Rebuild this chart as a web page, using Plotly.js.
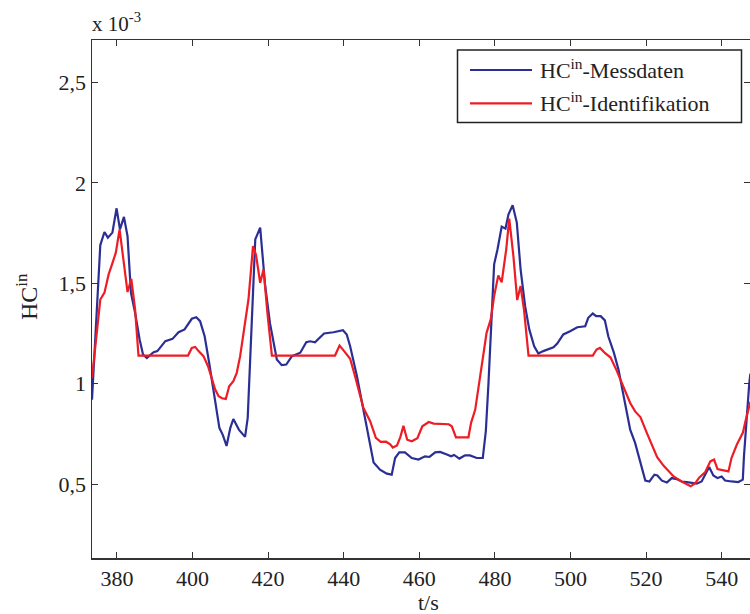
<!DOCTYPE html>
<html><head><meta charset="utf-8">
<script src="https://cdn.plot.ly/plotly-3.0.1.min.js"></script>
<style>html,body{margin:0;padding:0;background:#fff}#chart{width:750px;height:614px}</style>
</head><body><div id="chart"></div>
<script>
// values in units of 10^-3 (axis shows "x 10^-3")
var tMess = [373.4,375.6,376.7,377.6,378.8,379.9,380.8,381.85,382.8,383.7,384.8,386.0,386.9,387.9,389.7,390.7,392.8,394.7,396.3,397.9,399.8,401.0,402.0,403.2,404.4,406.0,407.1,408.0,409.0,410.0,410.8,412.3,413.9,414.6,416.6,417.9,419.2,420.5,422.3,423.6,424.8,426.3,428.5,430.1,431.1,432.4,434.8,437.3,439.8,440.8,441.7,443.5,445.2,446.8,447.9,449.6,451.4,452.7,453.6,454.7,456.2,458.0,459.8,461.5,462.7,464.2,465.5,467.3,468.4,469.2,470.6,472.1,473.4,475.2,476.8,477.6,478.3,479.8,480.7,481.8,482.8,483.6,484.7,485.8,486.8,488.0,489.1,490.4,491.5,492.8,494.1,495.5,496.5,498.1,499.9,501.8,503.9,504.7,505.9,506.8,508.0,509.1,510.0,511.5,512.7,513.6,515.8,517.1,518.5,519.8,520.9,522.2,523.0,524.2,525.5,526.8,528.1,529.4,530.8,532.1,533.4,534.7,535.9,536.7,537.8,538.9,540.0,540.9,542.6,544.4,545.6,545.9,547.3,547.6];
var hcMess = [0.92,1.69,1.755,1.727,1.752,1.873,1.768,1.83,1.735,1.453,1.353,1.22,1.145,1.128,1.157,1.162,1.212,1.223,1.256,1.27,1.323,1.331,1.311,1.236,1.104,0.904,0.78,0.745,0.69,0.78,0.824,0.77,0.735,0.83,1.718,1.777,1.49,1.30,1.12,1.092,1.095,1.137,1.154,1.206,1.211,1.206,1.25,1.256,1.266,1.245,1.186,1.037,0.871,0.696,0.608,0.572,0.552,0.547,0.63,0.658,0.658,0.63,0.622,0.638,0.635,0.658,0.66,0.647,0.638,0.645,0.627,0.643,0.643,0.63,0.63,0.763,1.0,1.594,1.669,1.782,1.772,1.843,1.888,1.802,1.569,1.386,1.27,1.186,1.15,1.162,1.173,1.181,1.2,1.245,1.261,1.281,1.286,1.328,1.349,1.336,1.336,1.315,1.236,1.153,1.07,0.987,0.771,0.705,0.605,0.518,0.513,0.547,0.543,0.517,0.508,0.53,0.525,0.513,0.51,0.505,0.502,0.513,0.552,0.585,0.543,0.53,0.538,0.518,0.513,0.51,0.522,0.638,1.0,1.05];
var tIdent = [373.4,375.6,376.7,377.8,378.7,379.7,380.7,381.7,382.8,383.8,384.8,385.7,398.8,399.8,400.7,401.6,402.9,404.1,405.1,406.0,406.9,407.8,408.8,409.7,410.8,411.7,412.6,413.7,414.8,416.0,416.8,417.9,418.8,419.8,421.0,437.7,438.9,439.9,441.7,443.0,444.2,445.2,447.0,448.5,449.8,451.2,452.3,453.0,454.1,455.0,455.8,456.8,458.0,459.5,460.8,462.5,463.8,467.8,468.6,469.7,473.0,473.7,474.8,475.9,477.0,477.8,478.9,479.8,480.9,481.8,483.0,483.8,484.9,485.9,486.8,487.7,488.9,505.9,506.9,507.8,509.1,510.6,512.2,514.0,515.8,517.1,518.5,520.2,522.9,524.6,527.3,529.4,531.8,533.0,534.1,535.6,537.0,538.0,538.9,541.8,542.6,544.0,545.6,546.4,547.6];
var hcIdent = [1.029,1.419,1.453,1.544,1.594,1.652,1.768,1.61,1.456,1.522,1.37,1.14,1.14,1.178,1.183,1.162,1.137,1.087,1.029,0.971,0.937,0.927,0.924,0.987,1.012,1.054,1.137,1.27,1.419,1.685,1.64,1.502,1.569,1.353,1.14,1.14,1.19,1.167,1.124,1.037,0.954,0.88,0.813,0.73,0.71,0.711,0.698,0.682,0.692,0.735,0.79,0.721,0.713,0.728,0.788,0.809,0.801,0.798,0.788,0.733,0.733,0.805,0.871,1.004,1.153,1.253,1.32,1.436,1.539,1.505,1.669,1.822,1.635,1.416,1.486,1.369,1.14,1.14,1.17,1.178,1.153,1.13,1.066,0.98,0.904,0.862,0.834,0.755,0.635,0.592,0.538,0.513,0.489,0.505,0.533,0.558,0.613,0.622,0.575,0.563,0.63,0.696,0.755,0.821,0.91];
var yTickVals = [0.5,1,1.5,2,2.5];
var yTickText = ["0,5","1","1,5","2","2,5"];
var xTickVals = [380,400,420,440,460,480,500,520,540];
var seriesNames = ["HC<sup>in</sup>-Messdaten","HC<sup>in</sup>-Identifikation"];
var seriesColors = ["#2B2F94","#EE1C25"];

var FONT = "Liberation Serif, Times New Roman, serif";
var L=92, R=750, T=40, B=558;
function px(xp){return (xp-L)/(R-L);}
function py(yp){return (B-yp)/(B-T);}

var traces = [
 {x:tMess, y:hcMess, type:"scatter", mode:"lines", name:seriesNames[0], line:{color:seriesColors[0], width:2.2}, showlegend:false},
 {x:tIdent, y:hcIdent, type:"scatter", mode:"lines", name:seriesNames[1], line:{color:seriesColors[1], width:2.2}, showlegend:false}
];

var axCommon = {showgrid:false, zeroline:false, showline:true, linecolor:"#333", linewidth:1.5, mirror:"ticks", ticks:"inside", ticklen:6, tickwidth:1, tickcolor:"#333", tickfont:{family:FONT, size:22, color:"#222"}};

var shapes = [
 {type:"rect", xref:"paper", yref:"paper", x0:px(457.5), x1:px(741.5), y0:py(122.5), y1:py(50), line:{color:"#222", width:1.5}, fillcolor:"#fff", layer:"above"},
 {type:"line", xref:"paper", yref:"paper", x0:px(470), x1:px(532), y0:py(70), y1:py(70), line:{color:seriesColors[0], width:2.2}},
 {type:"line", xref:"paper", yref:"paper", x0:px(470), x1:px(532), y0:py(103.3), y1:py(103.3), line:{color:seriesColors[1], width:2.2}}
];
var annotations = [
 {xref:"paper", yref:"paper", x:px(538), y:py(69), xanchor:"left", yanchor:"middle", text:seriesNames[0], showarrow:false, font:{family:FONT, size:22, color:"#222"}},
 {xref:"paper", yref:"paper", x:px(538), y:py(102), xanchor:"left", yanchor:"middle", text:seriesNames[1], showarrow:false, font:{family:FONT, size:22, color:"#222"}},
 {xref:"paper", yref:"paper", x:px(90), y:py(22), xanchor:"left", yanchor:"middle", text:"x 10<sup>-3</sup>", showarrow:false, font:{family:FONT, size:21, color:"#222"}},
 {xref:"paper", yref:"paper", x:px(27), y:py(297), xanchor:"center", yanchor:"middle", textangle:-90, text:"HC<sup>in</sup>", showarrow:false, font:{family:FONT, size:24, color:"#222"}},
 {xref:"paper", yref:"paper", x:px(428), y:py(602), xanchor:"center", yanchor:"middle", text:"t/s", showarrow:false, font:{family:FONT, size:22, color:"#222"}}
];

var layout = {
 width:750, height:614, margin:{l:L, r:750-R, t:T, b:614-B}, paper_bgcolor:"#fff", plot_bgcolor:"#fff",
 showlegend:false,
 xaxis:Object.assign({}, axCommon, {range:[373.4,547.5], tickvals:xTickVals, ticktext:xTickVals.map(String)}),
 yaxis:Object.assign({}, axCommon, {range:[0.132,2.711], tickvals:yTickVals, ticktext:yTickText}),
 shapes:shapes, annotations:annotations
};
Plotly.newPlot("chart", traces, layout, {displayModeBar:false, staticPlot:true});
</script></body></html>
